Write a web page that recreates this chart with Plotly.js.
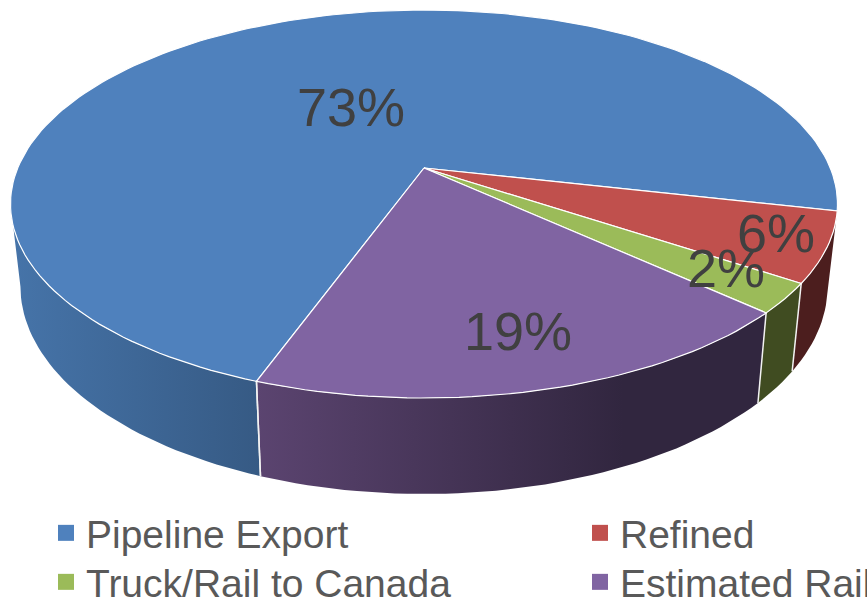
<!DOCTYPE html>
<html>
<head>
<meta charset="utf-8">
<script src="https://cdn.plot.ly/plotly-3.0.1.min.js"></script>
<style>html,body{margin:0;padding:0;background:#fff}#chart{width:867px;height:599px}</style>
</head>
<body>
<div id="chart"></div>
<script>
// Data
const categories = ['Pipeline Export', 'Refined', 'Truck/Rail to Canada', 'Estimated Rail'];
const values = [73.0, 5.8, 2.5, 18.7];
const labels = ['73%', '6%', '2%', '19%'];
const topColors = ['#4f81bd', '#c0504d', '#9bbb59', '#8064a2'];
const wallScales = [
  [[0, '#4674a9'], [1, '#365a84']],
  [[0, '#4c1e1e'], [1, '#4c1e1e']],
  [[0, '#404c21'], [1, '#404c21']],
  [[0, '#5b4470'], [0.5, '#3e2f4e'], [0.72, '#31263f'], [1, '#31263f']]
];

// Projection of the disc (perspective view)
const CX = 424, CY = 168, A = 406.3, B = 187.3, P = 0.1856;
const START_DEG = -109.9;
const X_SHRINK = 0.976;

function rim(deg) {
  const t = deg * Math.PI / 180, u = Math.cos(t), v = Math.sin(t), w = 1 + P * v;
  return [CX + A * u / w, CY - B * v / w];
}
function rimLow(deg) {
  const [x, y] = rim(deg);
  return [CX + X_SHRINK * (x - CX), y + 88 + 0.07 * (y - 284)];
}
function sweep(fn, from, to) {
  const n = Math.max(2, Math.ceil(Math.abs(to - from) / 1.5));
  const out = [];
  for (let i = 0; i <= n; i++) out.push(fn(from + (to - from) * i / n));
  return out;
}

const total = values.reduce((a, b) => a + b, 0);
const edges = [START_DEG];
values.forEach(v => edges.push(edges[edges.length - 1] - v / total * 360));

const traces = [];
const FRONT_LEFT = -169.3, FRONT_RIGHT = -10.7;

// Side walls
values.forEach((_, i) => {
  const a = edges[i], b = edges[i + 1];
  [0, 360].forEach(shift => {
    const from = Math.min(a + shift, FRONT_RIGHT), to = Math.max(b + shift, FRONT_LEFT);
    if (from - to < 3) return;
    const up = sweep(rim, from, to), low = sweep(rimLow, to, from);
    const pts = up.concat(low);
    pts.push(pts[0]);
    traces.push({
      type: 'scatter', mode: 'lines', x: pts.map(d => d[0]), y: pts.map(d => d[1]),
      fill: 'toself', line: {width: 0},
      fillcolor: wallScales[i][0][1],
      fillgradient: {type: 'horizontal', colorscale: wallScales[i]},
      hoverinfo: 'skip', showlegend: false
    });
  });
});

// White edges between walls
[edges[0], edges[2], edges[3], edges[4]].forEach(d => {
  const [x0, y0] = rim(d), [x1, y1] = rimLow(d);
  traces.push({type: 'scatter', mode: 'lines', x: [x0, x1], y: [y0, y1],
    line: {color: '#f2f2f2', width: 1.5}, hoverinfo: 'skip', showlegend: false});
});

// Top surface
values.forEach((_, i) => {
  const pts = [[CX, CY]].concat(sweep(rim, edges[i], edges[i + 1]));
  pts.push([CX, CY]);
  traces.push({
    type: 'scatter', mode: 'lines', x: pts.map(d => d[0]), y: pts.map(d => d[1]),
    fill: 'toself', fillcolor: topColors[i], line: {color: '#ffffff', width: 1.2},
    hoverinfo: 'skip', showlegend: false
  });
});

// Legend: one real legend per entry, so the 2x2 grid can be placed exactly
const legendKeys = ['legend', 'legend2', 'legend3', 'legend4'];
const legendLeft = [46, 580, 46, 580];
const legendTop = [501, 501, 550, 550];
const W = 867, H = 599;
categories.forEach((c, i) => {
  traces.push({type: 'scatter', mode: 'markers', x: [null], y: [null], name: c,
    legend: 'legend' + (i ? i + 1 : ''),
    marker: {symbol: 'square', size: 16, color: topColors[i]},
    hoverinfo: 'skip', showlegend: true});
});

const labelAt = [[351, 107], [776, 233], [726, 268], [518, 331]];
const annotations = labels.map((t, i) => ({
  text: t, x: labelAt[i][0], y: labelAt[i][1], xref: 'x', yref: 'y',
  showarrow: false, font: {family: '"Liberation Sans", Arial, sans-serif', size: 54, color: '#404040'}
}));

const layout = {
  width: W, height: H,
  margin: {l: 0, r: 0, t: 0, b: 0, pad: 0, autoexpand: false},
  paper_bgcolor: '#ffffff', plot_bgcolor: '#ffffff',
  xaxis: {range: [0, W], visible: false, fixedrange: true},
  yaxis: {range: [H, 0], visible: false, fixedrange: true},
  annotations: annotations,
  font: {family: '"Liberation Sans", Arial, sans-serif', color: '#595959'},
  hovermode: false
};
legendKeys.forEach((k, i) => {
  layout[k] = {
    x: legendLeft[i] / W, y: 1 - legendTop[i] / H, xanchor: 'left', yanchor: 'top',
    bgcolor: 'rgba(0,0,0,0)', borderwidth: 0,
    font: {family: '"Liberation Sans", Arial, sans-serif', size: 39, color: '#595959'},
    itemclick: false, itemdoubleclick: false
  };
});

Plotly.newPlot('chart', traces, layout, {displayModeBar: false, responsive: false});
</script>
</body>
</html>
